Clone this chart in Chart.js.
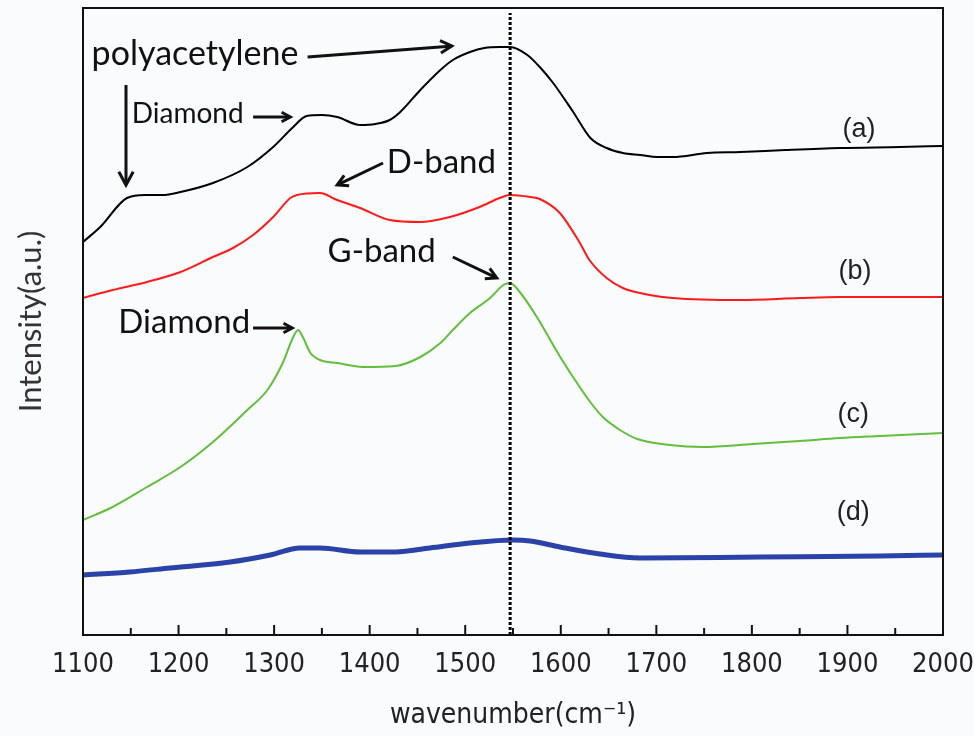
<!DOCTYPE html>
<html>
<head>
<meta charset="utf-8">
<script src="https://cdn.jsdelivr.net/npm/chart.js@4.4.1/dist/chart.umd.min.js"></script>
<style>
    html, body { margin: 0; padding: 0; background: #fafbfd; }
    canvas { display: block; }
</style>
</head>
<body>
<canvas id="raman" width="974" height="736"></canvas>
<script>
// spectrum (a) - black
const waveA = [1100, 1118, 1146, 1165, 1183, 1202, 1236, 1272, 1299, 1320, 1334, 1350, 1366, 1390, 1406, 1421, 1432, 1453, 1474, 1487, 1505, 1520, 1536, 1547, 1565, 1578, 1592, 1613, 1631, 1648, 1665, 1683, 1701, 1717, 1753, 1788, 1835, 1892, 1955, 2000];
const intensityA = [393, 408, 437, 440, 440, 443, 452, 468, 488, 508, 519, 520, 518, 510, 511, 515, 523, 545, 565, 575, 583, 587, 588, 588, 580, 568, 552, 523, 497, 487, 482, 480, 478, 478, 482, 483, 485, 487, 488, 489];

// spectrum (b) - red
const waveB = [1100, 1131, 1167, 1202, 1236, 1257, 1278, 1299, 1317, 1324, 1348, 1366, 1390, 1421, 1453, 1484, 1515, 1536, 1547, 1568, 1578, 1599, 1620, 1630, 1648, 1665, 1693, 1717, 1788, 1850, 1892, 2000];
const intensityB = [337, 345, 353, 363, 378, 387, 400, 418, 437, 440, 442, 435, 427, 415, 413, 418, 428, 437, 440, 438, 436, 422, 392, 375, 357, 347, 340, 337, 335, 337, 338, 338];

// spectrum (c) - green
const waveC = [1100, 1131, 1167, 1202, 1236, 1272, 1293, 1309, 1320, 1325, 1330, 1338, 1348, 1366, 1393, 1427, 1453, 1474, 1487, 1505, 1526, 1540, 1547, 1557, 1575, 1592, 1602, 1617, 1630, 1644, 1662, 1680, 1714, 1749, 1801, 1850, 1892, 1934, 2000];
const intensityC = [115, 128, 148, 168, 193, 225, 245, 272, 298, 305, 298, 282, 275, 272, 268, 269, 278, 292, 305, 322, 337, 350, 352, 343, 318, 290, 274, 252, 234, 218, 205, 196, 190, 188, 191, 194, 197, 199, 202];

// spectrum (d) - blue
const waveD = [1100, 1149, 1191, 1254, 1296, 1327, 1348, 1390, 1427, 1463, 1505, 1550, 1568, 1599, 1641, 1683, 1808, 1934, 2000];
const intensityD = [60, 63, 67, 73, 80, 87, 87, 83, 83, 87, 92, 95, 94, 88, 81, 77, 78, 79, 80];

// G-band marker
const gBandWave = 1547;
const gBandRange = [0, 622];

const xMin = 1100, xMax = 2000, yMax = 627;

// annotations, in data units
const labels = [
    {text: 'polyacetylene', x: 1109, y: 570, size: 34},
    {text: 'Diamond', x: 1151, y: 512, size: 28},
    {text: 'D-band', x: 1418, y: 462, size: 33},
    {text: 'G-band', x: 1356, y: 373, size: 33},
    {text: 'Diamond', x: 1137, y: 302, size: 33},
];
const arrows = [
    {from: [1335, 578], to: [1486, 589], head: 13},
    {from: [1145, 550], to: [1145, 450], head: 15},
    {from: [1278, 518], to: [1317, 518], head: 10},
    {from: [1414, 472], to: [1366, 450], head: 12},
    {from: [1487, 378], to: [1533, 357], head: 12},
    {from: [1278, 307], to: [1319, 307], head: 10},
];
const curveNames = [
    {text: '(a)', x: 1912, y: 505},
    {text: '(b)', x: 1908, y: 363},
    {text: '(c)', x: 1906, y: 220},
    {text: '(d)', x: 1906, y: 122},
];

const toPoints = (xs, ys) => xs.map((x, i) => ({x: x, y: ys[i]}));

const frameAndNotes = {
    id: 'frameAndNotes',
    afterDraw(chart) {
        const ctx = chart.ctx;
        const area = chart.chartArea;
        const xs = chart.scales.x;
        const ys = chart.scales.y;
        ctx.save();

        // box
        ctx.strokeStyle = '#111';
        ctx.lineWidth = 2;
        ctx.strokeRect(area.left, area.top, area.right - area.left, area.bottom - area.top);

        // inward ticks
        for (let v = xMin + 50; v < xMax; v += 50) {
            const px = xs.getPixelForValue(v);
            const len = v % 100 === 0 ? 10 : 7;
            ctx.beginPath();
            ctx.moveTo(px, area.bottom);
            ctx.lineTo(px, area.bottom - len);
            ctx.stroke();
        }

        // text notes
        ctx.fillStyle = '#111';
        ctx.textBaseline = 'alphabetic';
        ctx.textAlign = 'left';
        labels.forEach(item => {
            ctx.font = item.size + 'px Lato, "Open Sans", sans-serif';
            ctx.fillText(item.text, xs.getPixelForValue(item.x), ys.getPixelForValue(item.y));
        });

        // arrows
        ctx.lineWidth = 3;
        arrows.forEach(item => {
            const x1 = xs.getPixelForValue(item.from[0]);
            const y1 = ys.getPixelForValue(item.from[1]);
            const x2 = xs.getPixelForValue(item.to[0]);
            const y2 = ys.getPixelForValue(item.to[1]);
            const ang = Math.atan2(y2 - y1, x2 - x1);
            ctx.beginPath();
            ctx.moveTo(x1, y1);
            ctx.lineTo(x2 - Math.cos(ang) * 2, y2 - Math.sin(ang) * 2);
            ctx.stroke();
            ctx.beginPath();
            ctx.moveTo(x2 - item.head * Math.cos(ang - 0.5), y2 - item.head * Math.sin(ang - 0.5));
            ctx.lineTo(x2, y2);
            ctx.lineTo(x2 - item.head * Math.cos(ang + 0.5), y2 - item.head * Math.sin(ang + 0.5));
            ctx.stroke();
        });

        // curve names
        ctx.fillStyle = '#222';
        ctx.textAlign = 'center';
        ctx.textBaseline = 'middle';
        ctx.font = '27px "Liberation Sans", Arial, sans-serif';
        curveNames.forEach(item => {
            ctx.fillText(item.text, xs.getPixelForValue(item.x), ys.getPixelForValue(item.y));
        });

        ctx.restore();
    }
};

const lineStyle = {pointRadius: 0, cubicInterpolationMode: 'monotone'};

new Chart(document.getElementById('raman'), {
    type: 'line',
    data: {
        datasets: [
            {
                data: toPoints([gBandWave, gBandWave], gBandRange),
                borderColor: '#000',
                borderWidth: 3,
                borderDash: [3, 2],
                pointRadius: 0
            },
            {...lineStyle, data: toPoints(waveA, intensityA), borderColor: '#000000', borderWidth: 2},
            {...lineStyle, data: toPoints(waveB, intensityB), borderColor: '#ff1a1a', borderWidth: 2},
            {...lineStyle, data: toPoints(waveC, intensityC), borderColor: '#62bf3c', borderWidth: 2},
            {...lineStyle, data: toPoints(waveD, intensityD), borderColor: '#2b43a8', borderWidth: 5}
        ]
    },
    options: {
        responsive: false,
        animation: false,
        layout: {padding: {top: 8, right: 31, left: 0, bottom: 0}},
        plugins: {
            legend: {display: false},
            tooltip: {enabled: false}
        },
        scales: {
            x: {
                type: 'linear',
                min: xMin,
                max: xMax,
                grid: {display: false},
                border: {display: false},
                ticks: {
                    stepSize: 50,
                    autoSkip: false,
                    maxRotation: 0,
                    padding: 6,
                    color: '#222',
                    font: {size: 27, family: '"Liberation Sans Narrow", "DejaVu Sans Condensed", sans-serif'},
                    callback: v => v % 100 === 0 ? String(v) : ''
                },
                title: {
                    display: true,
                    text: 'wavenumber(cm⁻¹)',
                    color: '#222',
                    padding: {top: 0, bottom: 3},
                    font: {size: 28, family: '"Liberation Sans Narrow", "DejaVu Sans Condensed", sans-serif'}
                },
                afterFit: scale => {
                    scale.height = 101;
                    scale.paddingLeft = 0;
                    scale.paddingRight = 0;
                }
            },
            y: {
                min: 0,
                max: yMax,
                grid: {display: false},
                border: {display: false},
                ticks: {display: false},
                title: {
                    display: true,
                    text: 'Intensity(a.u.)',
                    color: '#333',
                    padding: {top: 12, bottom: 0},
                    font: {size: 31, family: 'Lato, "Open Sans", sans-serif'}
                },
                afterFit: scale => { scale.width = 83; }
            }
        }
    },
    plugins: [frameAndNotes]
});
</script>
</body>
</html>
